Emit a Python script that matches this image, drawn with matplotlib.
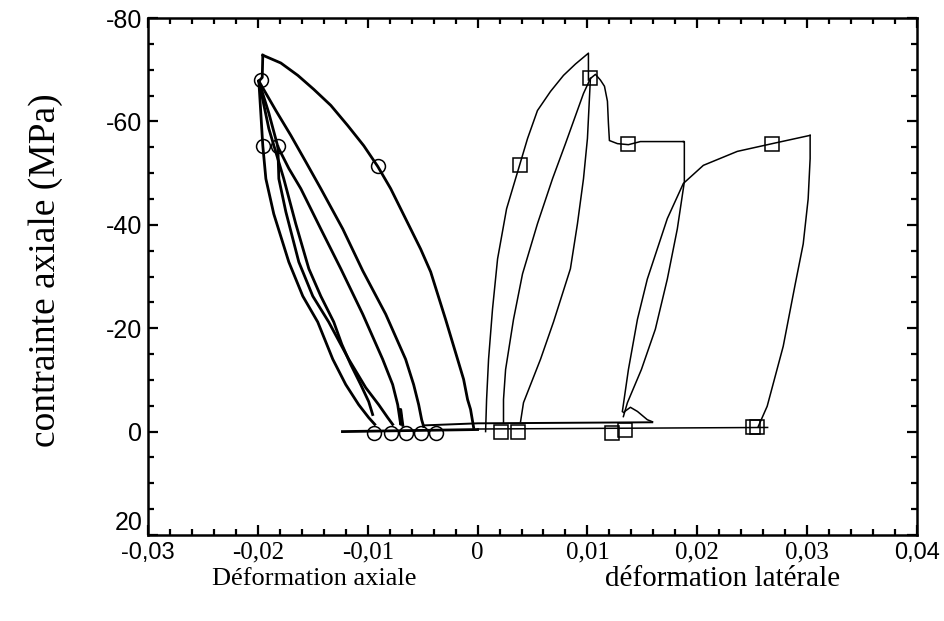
import matplotlib
matplotlib.use("Agg")
import matplotlib.pyplot as plt
from matplotlib.ticker import MultipleLocator

# ---- axial strain (left, circles) ----
axial_load_x = [-0.00036, -0.00064, -0.00091, -0.00127, -0.00182, -0.00291, -0.00427, -0.00518, -0.00609,
                -0.0070, -0.00791, -0.00909, -0.01036, -0.01182, -0.01336, -0.01491, -0.01636, -0.01791, -0.01955]
axial_load_y = [-0.8, -4.3, -6.2, -10.1, -14.0, -21.7, -30.9, -35.3, -39.2,
                -43.1, -47.0, -51.3, -55.3, -59.2, -63.1, -66.2, -68.9, -71.3, -72.8]
axial_drop_x = [-0.01955, -0.0196, -0.0199]
axial_drop_y = [-72.8, -68.5, -67.8]

axial_u1_x = [-0.01991, -0.01836, -0.0170, -0.01564, -0.01427, -0.01227, -0.01045, -0.00836, -0.00655,
              -0.00582, -0.00536, -0.00509, -0.00491]
axial_u1_y = [-67.8, -62.1, -57.3, -52.2, -47.0, -39.2, -31.1, -22.7, -14.0, -9.1, -5.2, -2.3, -1.0]
axial_u2_x = [-0.01991, -0.0190, -0.01818, -0.01718, -0.01609, -0.01427, -0.01245, -0.01045, -0.00864,
              -0.00773, -0.00727, -0.0070, -0.0070, -0.0068]
axial_u2_y = [-67.8, -61.6, -55.1, -50.9, -47.0, -39.2, -31.5, -22.7, -14.0, -9.1, -5.2, -1.4, -4.3, -1.2]
axial_u3_x = [-0.01991, -0.01973, -0.01955, -0.01927, -0.01855, -0.01718, -0.01591, -0.01455, -0.01318,
              -0.0120, -0.01082, -0.00991, -0.00936]
axial_u3_y = [-67.8, -61.6, -55.3, -48.9, -42.1, -32.8, -26.2, -21.2, -14.0, -9.1, -5.2, -2.7, -1.4]
axial_u4_x = [-0.01818, -0.01809, -0.01745, -0.01627, -0.0150, -0.01355, -0.01173, -0.01018, -0.0090,
              -0.00818, -0.00773]
axial_u4_y = [-55.1, -48.9, -42.5, -32.8, -26.2, -21.2, -14.0, -8.5, -5.2, -2.7, -1.4]
axial_u5_x = [-0.01991, -0.0190, -0.01764, -0.01655, -0.01536, -0.01427, -0.01309, -0.01236, -0.01155,
              -0.01064, -0.00991, -0.00955]
axial_u5_y = [-67.8, -58.6, -48.9, -40.2, -31.5, -26.2, -21.2, -16.9, -13.0, -9.1, -5.8, -3.3]

axial_base_x = [-0.0123, 0.0]
axial_base_y = [0.0, -0.4]
upper_base_x = [-0.0049, 0.0, 0.0159]
upper_base_y = [-1.2, -1.6, -1.8]

axial_circ_x = [-0.0197, -0.01955, -0.0182, -0.0091, -0.00945, -0.00791, -0.00655, -0.00518, -0.00382]
axial_circ_y = [-68.0, -55.3, -55.2, -51.3, 0.2, 0.2, 0.2, 0.2, 0.2]

# ---- lateral strain (right, squares) ----
lat_load1_x = [0.00073, 0.00082, 0.0010, 0.00136, 0.00182, 0.00264, 0.00382, 0.00455, 0.00545, 0.00664,
               0.00782, 0.00891, 0.01009, 0.01009]
lat_load1_y = [0.0, -6.2, -14.0, -23.7, -33.4, -43.1, -51.5, -56.7, -62.1, -65.8,
               -68.9, -71.1, -73.2, -68.0]
lat_unl1_x = [0.01027, 0.00964, 0.0080, 0.00682, 0.00545, 0.00409, 0.00327, 0.00255, 0.00236, 0.00236]
lat_unl1_y = [-68.3, -65.4, -55.7, -48.9, -40.2, -30.5, -21.7, -12.0, -6.2, -1.7]
lat_rel1_x = [0.00391, 0.00418, 0.00573, 0.00691, 0.00845, 0.00909, 0.00964, 0.0100, 0.01027]
lat_rel1_y = [-1.9, -5.6, -14.0, -21.2, -31.5, -40.2, -48.9, -56.7, -68.3]
lat_creep_x = [0.01027, 0.01073, 0.01118, 0.01155, 0.01182, 0.01191, 0.0120, 0.01273, 0.01373, 0.01482, 0.01873]
lat_creep_y = [-68.3, -69.1, -68.0, -66.8, -63.9, -59.6, -56.3, -55.7, -55.5, -56.1, -56.1]
lat_unl2_x = [0.01873, 0.01882, 0.01882, 0.01818, 0.01727, 0.01618, 0.01491, 0.01364, 0.01327]
lat_unl2_y = [-56.1, -56.1, -48.3, -39.2, -29.5, -19.8, -12.0, -5.6, -2.9]
lat_rel2_x = [0.01318, 0.01373, 0.01455, 0.01545, 0.01727, 0.01873, 0.02055, 0.02364, 0.02682, 0.03027]
lat_rel2_y = [-3.9, -12.0, -21.7, -29.5, -41.2, -48.0, -51.5, -54.2, -55.7, -57.3]
lat_unl3_x = [0.03027, 0.03027, 0.03009, 0.02964, 0.02891, 0.02782, 0.02636, 0.02555]
lat_unl3_y = [-57.3, -52.8, -45.0, -36.3, -28.5, -16.5, -4.9, -1.0]
lat_hump_x = [0.01327, 0.01391, 0.01455, 0.01545, 0.01591]
lat_hump_y = [-3.7, -4.7, -3.9, -2.3, -1.9]
lat_base_x = [0.0, 0.0264]
lat_base_y = [-0.5, -0.8]

lat_sq_x = [0.00382, 0.01027, 0.01373, 0.02682, 0.00209, 0.00364, 0.01227, 0.01345, 0.02509, 0.0254]
lat_sq_y = [-51.5, -68.4, -55.7, -55.7, 0.0, 0.0, 0.2, -0.4, -0.8, -0.8]

xticks = [-0.03, -0.02, -0.01, 0.0, 0.01, 0.02, 0.03, 0.04]
xtick_labels = ["-0,03", "-0,02", "-0,01", "0", "0,01", "0,02", "0,03", "0,04"]
yticks = [-80, -60, -40, -20, 0, 20]
ytick_labels = ["-80", "-60", "-40", "-20", "0", "20"]

serif = ["Liberation Serif", "DejaVu Serif"]
sans = ["Liberation Sans", "DejaVu Sans"]

fig = plt.figure(figsize=(9.45, 6.21), dpi=100)
ax = fig.add_axes([0.1566, 0.1385, 0.8138, 0.8325])

# axial curves - heavier pen
for xs, ys in [(axial_load_x, axial_load_y), (axial_drop_x, axial_drop_y),
               (axial_u1_x, axial_u1_y), (axial_u2_x, axial_u2_y),
               (axial_u3_x, axial_u3_y), (axial_u4_x, axial_u4_y),
               (axial_u5_x, axial_u5_y), (axial_base_x, axial_base_y)]:
    ax.plot(xs, ys, color="black", lw=2.0, solid_joinstyle="round")
ax.plot(upper_base_x, upper_base_y, color="black", lw=1.4)
ax.plot(axial_circ_x, axial_circ_y, "o", mfc="none", mec="black", ms=10, mew=1.1)

# lateral curves - thin pen
for xs, ys in [(lat_load1_x, lat_load1_y), (lat_unl1_x, lat_unl1_y),
               (lat_rel1_x, lat_rel1_y), (lat_creep_x, lat_creep_y),
               (lat_unl2_x, lat_unl2_y), (lat_rel2_x, lat_rel2_y),
               (lat_unl3_x, lat_unl3_y), (lat_hump_x, lat_hump_y),
               (lat_base_x, lat_base_y)]:
    ax.plot(xs, ys, color="black", lw=1.1, solid_joinstyle="round")
ax.plot(lat_sq_x, lat_sq_y, "s", mfc="none", mec="black", ms=10, mew=1.1)

ax.set_xlim(-0.03, 0.04)
ax.set_ylim(20, -80)
ax.set_xticks(xticks)
ax.set_yticks(yticks)
ax.xaxis.set_minor_locator(MultipleLocator(0.002))
ax.yaxis.set_minor_locator(MultipleLocator(5))
ax.tick_params(which="both", direction="in", top=True, right=True, width=1.6)
ax.tick_params(which="major", length=7)
ax.tick_params(which="minor", length=4)
ax.tick_params(axis="x", pad=5)
ax.tick_params(axis="y", pad=4)

ax.set_xticklabels(xtick_labels)
ax.set_yticklabels(ytick_labels)
for i, lab in enumerate(ax.get_xticklabels()):
    if i in (0, len(xtick_labels) - 1):
        lab.set_fontfamily(sans)
        lab.set_fontsize(17)
    else:
        lab.set_fontfamily(serif)
        lab.set_fontsize(18)
for lab in ax.get_yticklabels():
    lab.set_fontfamily(sans)
    lab.set_fontsize(18)
# the bottom "20" sits on the axis line, clear of "-0,03"
ax.get_yticklabels()[-1].set_verticalalignment("bottom")

for s in ax.spines.values():
    s.set_linewidth(1.8)

fig.text(0.048, 0.565, "contrainte axiale (MPa)", rotation=90, ha="center", va="center",
         fontsize=27, family=serif)
fig.text(0.333, 0.068, "Déformation axiale", ha="center", va="center", fontsize=19, family=serif)
fig.text(0.765, 0.068, "déformation latérale", ha="center", va="center", fontsize=21, family=serif)

fig.savefig("out.png", dpi=100)
